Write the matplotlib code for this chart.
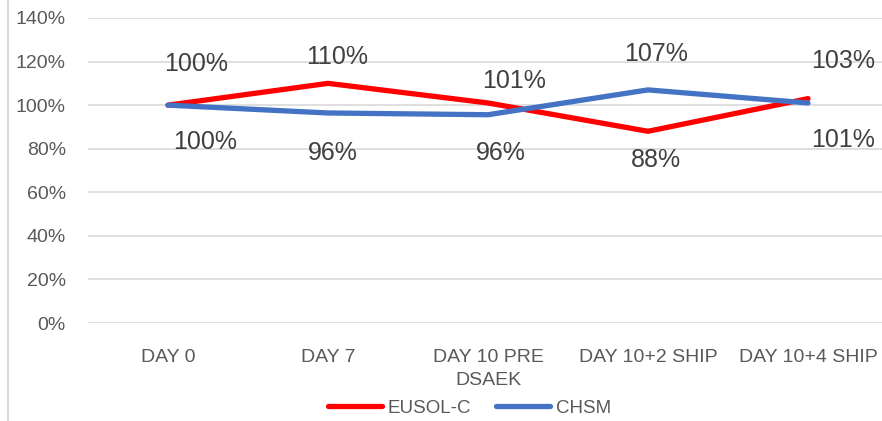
import matplotlib
matplotlib.use('Agg')
import matplotlib.pyplot as plt
from matplotlib.lines import Line2D
from matplotlib.ticker import PercentFormatter

plt.rcParams['font.family'] = ['Liberation Sans', 'DejaVu Sans']

# data
days = ['DAY 0', 'DAY 7', 'DAY 10 PRE\nDSAEK', 'DAY 10+2 SHIP', 'DAY 10+4 SHIP']
eusol_c = [1.00, 1.10, 1.01, 0.88, 1.03]
chsm = [1.00, 0.964, 0.956, 1.07, 1.01]
y_ticks = [0, 0.2, 0.4, 0.6, 0.8, 1.0, 1.2, 1.4]

# label offsets in pixels (dx, dy)
eusol_off = [(28, 41), (9, 26), (26, 22), (8, -29), (35, 38)]
chsm_off = [(37, -37), (5, -40), (13, -38), (8, 36), (35, -37)]

red = '#FF0000'
blue = '#4472C4'
grid_col = '#D9D9D9'
txt_col = '#595959'

fig = plt.figure(figsize=(8.82, 4.21), dpi=100)
ax = fig.add_axes([88 / 882, 1 - 323 / 421, 800 / 882, 305 / 421])

x = list(range(len(days)))
ax.plot(x, eusol_c, color=red, lw=3.8, solid_capstyle='round', label='EUSOL-C')
ax.plot(x, chsm, color=blue, lw=3.8, solid_capstyle='round', label='CHSM')

for i, v in enumerate(eusol_c):
    ax.annotate('{:.0f}%'.format(v * 100), (i, v), xytext=eusol_off[i],
                textcoords='offset pixels', ha='center', va='center',
                fontsize=18, color='#404040')
for i, v in enumerate(chsm):
    ax.annotate('{:.0f}%'.format(v * 100), (i, v), xytext=chsm_off[i],
                textcoords='offset pixels', ha='center', va='center',
                fontsize=18, color='#404040')

ax.set_xlim(-0.5, len(days) - 0.5)
ax.set_ylim(0, 1.4)
ax.set_yticks(y_ticks)
ax.yaxis.set_major_formatter(PercentFormatter(1.0, decimals=0))
ax.set_xticks(x)
ax.set_xticklabels(days, linespacing=1.45)
ax.grid(axis='y', color=grid_col, lw=1.2)
ax.set_axisbelow(True)
for s in ax.spines.values():
    s.set_visible(False)
ax.tick_params(axis='y', length=0, pad=16, labelsize=14, labelcolor=txt_col)
ax.tick_params(axis='x', length=0, pad=19, labelsize=14, labelcolor=txt_col)

# chart border on the left
fig.add_artist(Line2D([8 / 882, 8 / 882], [0, 1], color=grid_col, lw=1.5))

fig.legend(loc='center', bbox_to_anchor=(0.532, 0.031), ncol=2, frameon=False,
           fontsize=13.5, handlelength=2.9, handletextpad=0.27, columnspacing=1.35,
           labelcolor=txt_col)

plt.savefig('out.png', dpi=100)
